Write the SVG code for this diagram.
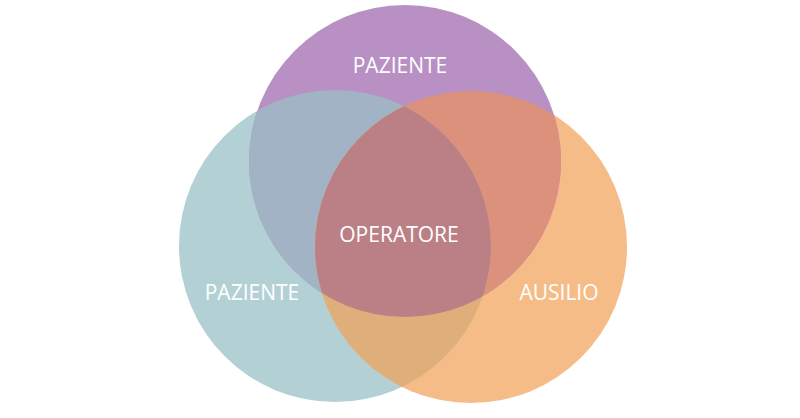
<svg xmlns="http://www.w3.org/2000/svg" width="800" height="418" viewBox="0 0 800 418">
<style>
.lbl{font-family:"Open Sans","Liberation Sans",sans-serif;font-size:21px;fill:#ffffff;text-anchor:middle}
</style>
<defs>
<clipPath id="cP"><circle cx="405" cy="161" r="156"/></clipPath>
<clipPath id="cT"><circle cx="335" cy="246" r="156"/></clipPath>
<clipPath id="cO"><circle cx="471" cy="247" r="156"/></clipPath>
</defs>
<rect width="800" height="418" fill="#ffffff"/>
<g id="connectors"/>
<g id="node-paziente-left">
<circle cx="335" cy="246" r="156" fill="#B3D1D5"/>
</g>
<g id="node-ausilio">
<circle cx="471" cy="247" r="156" fill="#F6BC88"/>
</g>
<g id="node-paziente-top">
<circle cx="405" cy="161" r="156" fill="#B890C4"/>
</g>
<g id="overlaps">
<circle cx="335" cy="246" r="156" fill="#A1B3C4" clip-path="url(#cP)"/>
<circle cx="471" cy="247" r="156" fill="#DB917C" clip-path="url(#cP)"/>
<circle cx="471" cy="247" r="156" fill="#DFAF7B" clip-path="url(#cT)"/>
<g clip-path="url(#cP)"><circle cx="471" cy="247" r="156" fill="#BB8085" clip-path="url(#cT)"/></g>
</g>
<g id="labels">
<text class="lbl" x="400" y="73">PAZIENTE</text>
<text class="lbl" x="399" y="242">OPERATORE</text>
<text class="lbl" x="252" y="300">PAZIENTE</text>
<text class="lbl" x="559" y="300">AUSILIO</text>
</g>
</svg>
